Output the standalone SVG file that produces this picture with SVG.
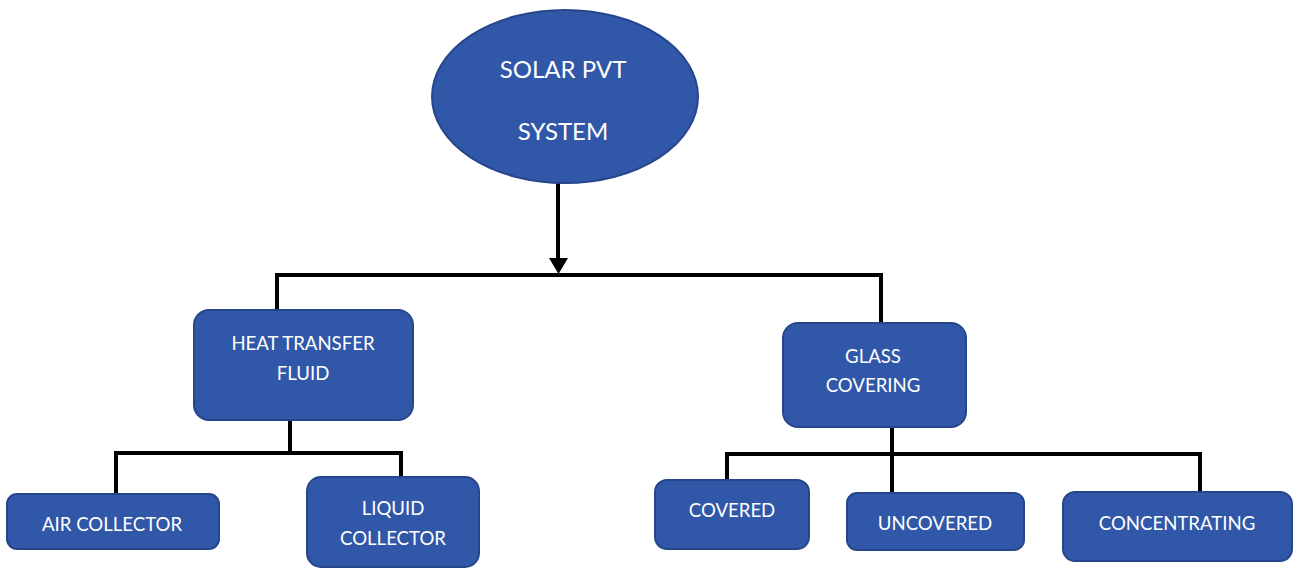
<svg xmlns="http://www.w3.org/2000/svg" width="1294" height="569" viewBox="0 0 1294 569">
<style>
.node{fill:#3158a8;stroke:#26468c;stroke-width:2}
.lbl{font-family:Lato,"Liberation Sans",sans-serif;fill:#ffffff;text-anchor:middle;font-size:18.6px}
.big{font-size:24px}
.conn{fill:none;stroke:#000000;stroke-width:4;stroke-linecap:square;stroke-linejoin:miter}
</style>
<rect width="1294" height="569" fill="#ffffff"/>
<g id="connectors">
<path class="conn" d="M558 184 V260"/>
<polygon points="549,258 568,258 558.5,274" fill="#000000"/>
<path class="conn" d="M277 311 V275 H881 V321"/>
<path class="conn" d="M290 421 V453"/>
<path class="conn" d="M116 493 V453 H401 V477"/>
<path class="conn" d="M892 428 V493"/>
<path class="conn" d="M727 479 V454 H1200 V491"/>
</g>
<g id="solar-pvt-system">
<ellipse class="node" cx="565" cy="96.5" rx="133" ry="86.5"/>
<text class="lbl big" x="563" y="78">SOLAR PVT</text>
<text class="lbl big" x="563" y="140">SYSTEM</text>
</g>
<g id="heat-transfer-fluid">
<rect class="node" x="194" y="310" width="219" height="110" rx="15"/>
<text class="lbl" x="303" y="350">HEAT TRANSFER</text>
<text class="lbl" x="303" y="380">FLUID</text>
</g>
<g id="glass-covering">
<rect class="node" x="783" y="323" width="183" height="104" rx="15"/>
<text class="lbl" x="873" y="363">GLASS</text>
<text class="lbl" x="873" y="392">COVERING</text>
</g>
<g id="air-collector">
<rect class="node" x="7" y="494" width="212" height="55" rx="10"/>
<text class="lbl" x="112" y="531">AIR COLLECTOR</text>
</g>
<g id="liquid-collector">
<rect class="node" x="307" y="477" width="172" height="90" rx="14"/>
<text class="lbl" x="393" y="515">LIQUID</text>
<text class="lbl" x="393" y="545">COLLECTOR</text>
</g>
<g id="covered">
<rect class="node" x="655" y="480" width="154" height="69" rx="12"/>
<text class="lbl" x="732" y="517">COVERED</text>
</g>
<g id="uncovered">
<rect class="node" x="847" y="493" width="177" height="57" rx="10"/>
<text class="lbl" x="935" y="530">UNCOVERED</text>
</g>
<g id="concentrating">
<rect class="node" x="1063" y="492" width="229" height="69" rx="12"/>
<text class="lbl" x="1177" y="530">CONCENTRATING</text>
</g>
</svg>
